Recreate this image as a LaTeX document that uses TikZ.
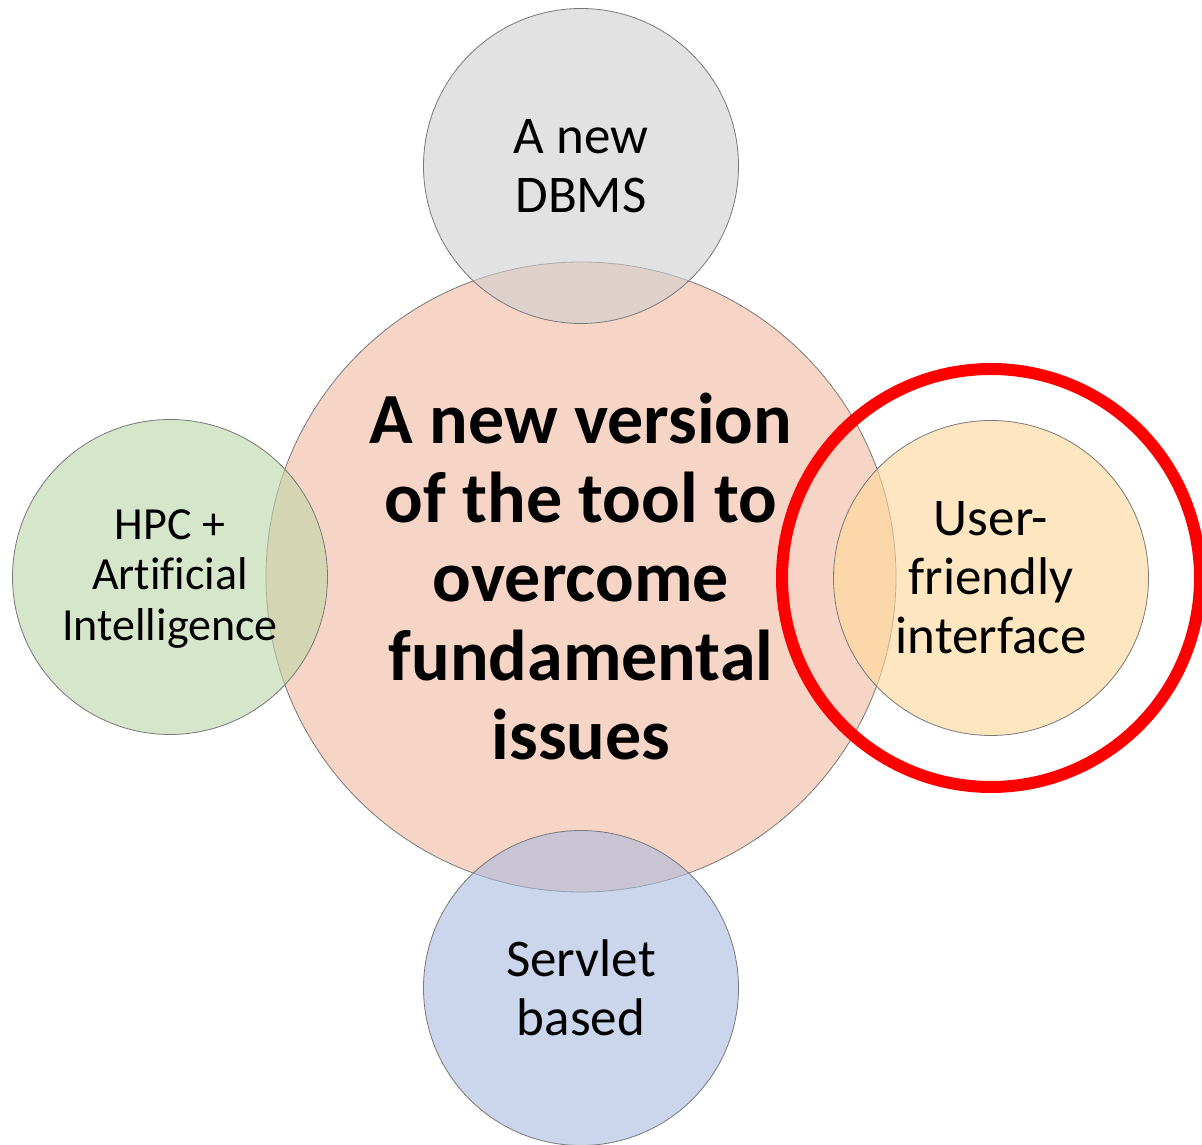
\documentclass[tikz,border=0pt]{standalone}
\usepackage{fontspec}
\setmainfont{Carlito}[Ligatures=NoCommon]
\definecolor{cmain}{RGB}{242,185,160}
\definecolor{ctop}{RGB}{207,207,207}
\definecolor{cleft}{RGB}{187,213,167}
\definecolor{cright}{RGB}{253,215,150}
\definecolor{cbot}{RGB}{168,185,222}
\definecolor{edge}{RGB}{120,120,120}
\begin{document}
\begin{tikzpicture}[x=1pt,y=1pt,
  bub/.style={circle,draw=edge,line width=0.8pt,fill opacity=0.6,text opacity=1,inner sep=0pt,align=center},
  small/.style={font=\fontsize{53}{59}\selectfont},
  smaller/.style={font=\fontsize{46}{50.5}\selectfont},
  big/.style={font=\fontsize{72}{79}\selectfont\bfseries}]
\useasboundingbox (0,0) rectangle (1202,1145);
\node[bub,fill=cmain,minimum size=630] (main) at (581,568) {};
\node[bub,fill=ctop,minimum size=315] (top) at (581,979) {};
\node[bub,fill=cbot,minimum size=315] (bot) at (581,157) {};
\node[bub,fill=cleft,minimum size=315] (left) at (170,568) {};
\node[bub,fill=cright,minimum size=315] (right) at (991,567) {};
\node[draw=red,line width=12pt,circle,minimum size=418,inner sep=0pt] (ring) at (991,567) {};
\node[small,align=center] (toptxt) at (top.center) {A new\\DBMS};
\node[small,align=center] (bottxt) at (bot.center) {Servlet\\based};
\node[smaller,align=center] (lefttxt) at ([yshift=-2pt]left.center) {HPC +\\Artificial\\Intelligence};
\node[small,align=center] (righttxt) at (right.center) {User-\\friendly\\interface};
\node[big,align=center] (maintxt) at (main.center) {A new version\\of the tool to\\overcome\\fundamental\\issues};
\end{tikzpicture}
\end{document}
